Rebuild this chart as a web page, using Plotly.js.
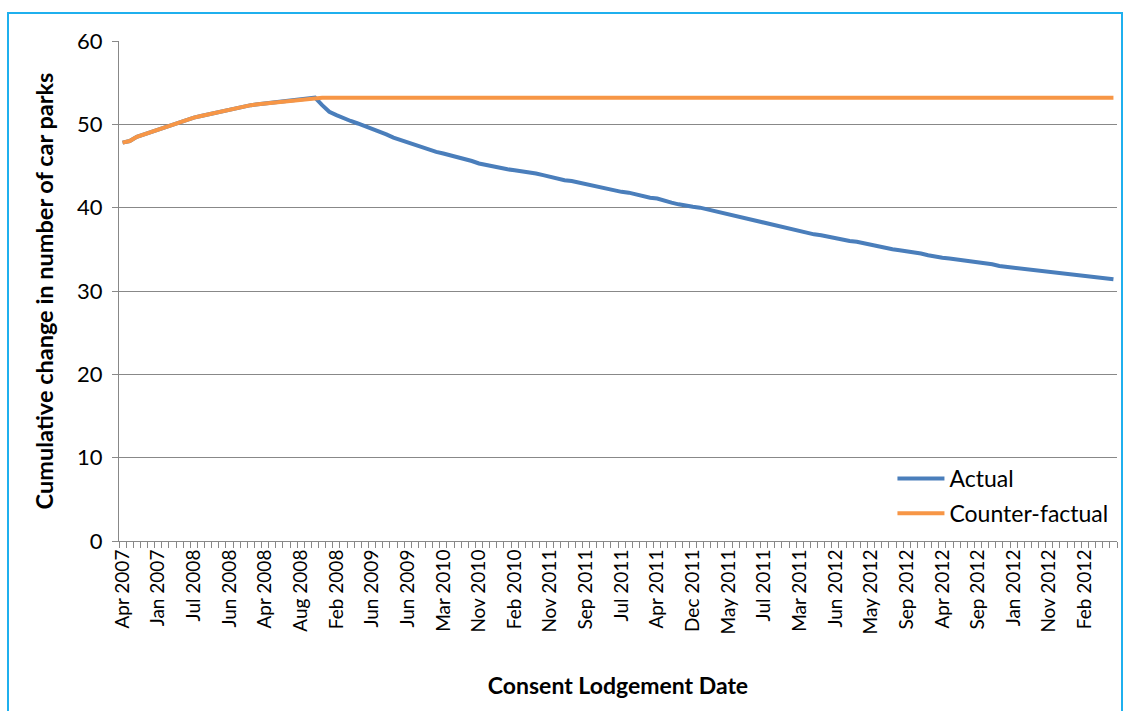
<!DOCTYPE html>
<html>
<head>
<meta charset="utf-8">
<script src="https://cdn.plot.ly/plotly-3.0.1.min.js"></script>
<style>
  html, body { margin: 0; padding: 0; background: #ffffff; }
  #frame { position: absolute; left: 7px; top: 12px; width: 1112px; height: 720px;
           border-left: 2px solid #1fb0ee; border-top: 2px solid #1fb0ee; border-right: 2px solid #1fb0ee; }
  #chart { position: absolute; left: 0; top: 0; width: 1125px; height: 711px; }
</style>
</head>
<body>
<div id="frame"></div>
<div id="chart"></div>
<script>
// Category tick labels (one label every 5 categories, as in the source chart)
const tickLabels = [
  "Apr 2007", "Jan 2007", "Jul 2008", "Jun 2008", "Apr 2008", "Aug 2008", "Feb 2008",
  "Jun 2009", "Jun 2009", "Mar 2010", "Nov 2010", "Feb 2010", "Nov 2011", "Sep 2011",
  "Jul 2011", "Apr 2011", "Dec 2011", "May 2011", "Jul 2011", "Mar 2011", "Jun 2012",
  "May 2012", "Sep 2012", "Apr 2012", "Sep 2012", "Jan 2012", "Nov 2012", "Feb 2012"
];

// Series: Actual
const actual = [
  47.8, 48.0, 48.5, 48.8, 49.1, 49.4, 49.7, 50.0, 50.2, 50.5,
  50.8, 51.0, 51.2, 51.4, 51.6, 51.8, 52.0, 52.1, 52.3, 52.4,
  52.5, 52.6, 52.7, 52.8, 52.9, 53.0, 53.1, 53.2, 52.3, 51.5,
  51.1, 50.7, 50.4, 50.1, 49.8, 49.5, 49.2, 48.8, 48.4, 48.1,
  47.8, 47.5, 47.2, 46.9, 46.7, 46.5, 46.3, 46.1, 45.9, 45.6,
  45.3, 45.1, 45.0, 44.8, 44.6, 44.5, 44.4, 44.3, 44.1, 43.9,
  43.7, 43.4, 43.3, 43.2, 43.0, 42.8, 42.7, 42.4, 42.3, 42.1,
  41.9, 41.8, 41.6, 41.3, 41.2, 41.1, 40.8, 40.6, 40.4, 40.2,
  40.1, 40.0, 39.8, 39.5, 39.3, 39.1, 38.9, 38.8, 38.6, 38.3,
  38.1, 38.0, 37.8, 37.5, 37.3, 37.2, 37.0, 36.8, 36.7, 36.5,
  36.3, 36.1, 36.0, 35.9, 35.7, 35.5, 35.4, 35.2, 35.0, 34.9,
  34.8, 34.7, 34.5, 34.3, 34.1, 34.0, 33.9, 33.8, 33.7, 33.5,
  33.4, 33.3, 33.2, 33.0, 32.9, 32.8, 32.7, 32.6, 32.5, 32.3,
  32.2, 32.1, 32.0, 31.9, 31.8, 31.7, 31.6, 31.5, 31.4, 31.4
];

// Series: Counter-factual
const counterFactual = [
  47.8, 48.0, 48.5, 48.8, 49.1, 49.4, 49.7, 50.0, 50.2, 50.5,
  50.8, 51.0, 51.2, 51.4, 51.6, 51.8, 52.0, 52.1, 52.3, 52.4,
  52.5, 52.6, 52.7, 52.8, 52.9, 53.0, 53.1, 53.2, 53.2, 53.2,
  53.2, 53.2, 53.2, 53.2, 53.2, 53.2, 53.2, 53.2, 53.2, 53.2,
  53.2, 53.2, 53.2, 53.2, 53.2, 53.2, 53.2, 53.2, 53.2, 53.2,
  53.2, 53.2, 53.2, 53.2, 53.2, 53.2, 53.2, 53.2, 53.2, 53.2,
  53.2, 53.2, 53.2, 53.2, 53.2, 53.2, 53.2, 53.2, 53.2, 53.2,
  53.2, 53.2, 53.2, 53.2, 53.2, 53.2, 53.2, 53.2, 53.2, 53.2,
  53.2, 53.2, 53.2, 53.2, 53.2, 53.2, 53.2, 53.2, 53.2, 53.2,
  53.2, 53.2, 53.2, 53.2, 53.2, 53.2, 53.2, 53.2, 53.2, 53.2,
  53.2, 53.2, 53.2, 53.2, 53.2, 53.2, 53.2, 53.2, 53.2, 53.2,
  53.2, 53.2, 53.2, 53.2, 53.2, 53.2, 53.2, 53.2, 53.2, 53.2,
  53.2, 53.2, 53.2, 53.2, 53.2, 53.2, 53.2, 53.2, 53.2, 53.2,
  53.2, 53.2, 53.2, 53.2, 53.2, 53.2, 53.2, 53.2, 53.2, 53.2
];

const idx = actual.map((_, i) => i);
const labelStep = 5;
const tickVals = tickLabels.map((_, k) => k * labelStep);

const FONT = "Lato, 'Open Sans', sans-serif";
const GRID = "#888888";

const traces = [
  { x: idx, y: actual, type: "scatter", mode: "lines", name: "Actual", legendgroup: "a",
    line: { color: "#4a7ebb", width: 4 } },
  { x: idx, y: counterFactual, type: "scatter", mode: "lines", name: "Counter-factual", legendgroup: "b",
    line: { color: "#f79646", width: 4 } }
];

const layout = {
  width: 1125, height: 711,
  paper_bgcolor: "rgba(0,0,0,0)", plot_bgcolor: "#ffffff",
  margin: { l: 119, r: 8, t: 41, b: 170 },
  font: { family: FONT, color: "#000000", size: 19 },
  showlegend: true,
  legend: { x: 0.775, y: 0.168, xanchor: "left", yanchor: "top",
            bgcolor: "rgba(255,255,255,0)", font: { size: 23, family: FONT },
            tracegroupgap: 2, itemwidth: 47 },
  xaxis: {
    range: [-0.5, actual.length - 0.5],
    tickmode: "array", tickvals: tickVals, ticktext: tickLabels,
    tickangle: -90, ticks: "", showgrid: false, zeroline: false,
    showline: true, linecolor: GRID, linewidth: 1,
    tickfont: { size: 19, family: FONT },
    minor: { ticks: "outside", ticklen: 6, tickcolor: GRID, tickwidth: 1,
             tickmode: "linear", tick0: -0.5, dtick: 1, showgrid: false },
    title: { text: "<b>Consent Lodgement Date</b>", font: { size: 23, family: FONT }, standoff: 44 },
    automargin: false, fixedrange: true
  },
  yaxis: {
    range: [0, 60], tickmode: "linear", tick0: 0, dtick: 10,
    ticks: "outside", ticklen: 6, tickcolor: GRID,
    showgrid: true, gridcolor: GRID, gridwidth: 1,
    zeroline: false, showline: true, linecolor: GRID, linewidth: 1,
    tickfont: { size: 22, family: FONT }, ticklabelstandoff: 5,
    title: { text: "<b>Cumulative change in number of car parks</b>", font: { size: 23.5, family: FONT }, standoff: 16 },
    automargin: false, fixedrange: true
  }
};

Plotly.newPlot("chart", traces, layout, { displayModeBar: false, staticPlot: true });
</script>
</body>
</html>
